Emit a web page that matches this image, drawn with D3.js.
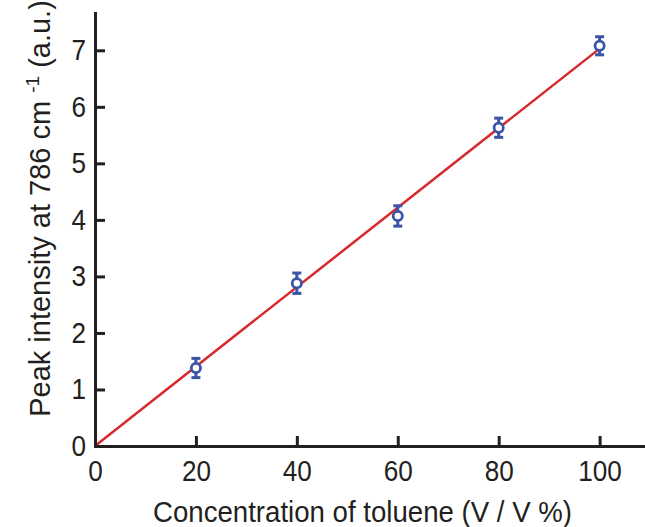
<!DOCTYPE html>
<html>
<head>
<meta charset="utf-8">
<script src="https://cdn.jsdelivr.net/npm/d3@7"></script>
<style>
  body { margin: 0; background: #fff; }
  svg { display: block; }
</style>
</head>
<body>
<svg id="canvas" width="645" height="527"></svg>
<script>
// concentration of toluene (V/V %)
const concentration = [20, 40, 60, 80, 100];
// peak intensity at 786 cm-1 (a.u.)
const intensity = [1.38, 2.88, 4.07, 5.63, 7.08];
const errors = [0.17, 0.18, 0.18, 0.17, 0.16];

// linear fit through origin
const fitX = [0, 100];
const fitY = [0, 7.03];

const xTicks = [0, 20, 40, 60, 80, 100];
const yTicks = [0, 1, 2, 3, 4, 5, 6, 7];

const width = 645;
const height = 527;
const margin = { left: 95, right: 2, top: 13, bottom: 81 };

const axisColor = '#231f20';
const markColor = '#3a55a6';
const lineColor = '#d7282b';
const font = '"Liberation Sans", Arial, Helvetica, sans-serif';

let canvas = d3.select('#canvas');

let xScale = d3.scaleLinear()
    .domain([0, 108.6])
    .range([margin.left, width - margin.right]);

let yScale = d3.scaleLinear()
    .domain([0, 7.66])
    .range([height - margin.bottom, margin.top]);

let drawFit = () => {
    let line = d3.line()
        .x(d => xScale(d[0]))
        .y(d => yScale(d[1]));
    canvas.append('path')
        .datum(d3.zip(fitX, fitY))
        .attr('d', line)
        .attr('fill', 'none')
        .attr('stroke', lineColor)
        .attr('stroke-width', 2.5);
}

let drawPoints = () => {
    let pts = d3.zip(concentration, intensity, errors);
    let g = canvas.append('g');

    g.selectAll('line.bar')
        .data(pts)
        .enter()
        .append('line')
        .attr('class', 'bar')
        .attr('x1', d => xScale(d[0]))
        .attr('x2', d => xScale(d[0]))
        .attr('y1', d => yScale(d[1] - d[2]))
        .attr('y2', d => yScale(d[1] + d[2]))
        .attr('stroke', markColor)
        .attr('stroke-width', 3);

    [-1, 1].forEach(s => {
        g.selectAll('line.cap' + (s + 1))
            .data(pts)
            .enter()
            .append('line')
            .attr('x1', d => xScale(d[0]) - 4.5)
            .attr('x2', d => xScale(d[0]) + 4.5)
            .attr('y1', d => yScale(d[1] + s * d[2]))
            .attr('y2', d => yScale(d[1] + s * d[2]))
            .attr('stroke', markColor)
            .attr('stroke-width', 3);
    });

    g.selectAll('circle')
        .data(pts)
        .enter()
        .append('circle')
        .attr('cx', d => xScale(d[0]))
        .attr('cy', d => yScale(d[1]))
        .attr('r', 4.6)
        .attr('fill', '#fff')
        .attr('stroke', markColor)
        .attr('stroke-width', 2.8);
}

let drawAxes = () => {
    let xAxis = d3.axisBottom(xScale)
        .tickValues(xTicks)
        .tickSizeInner(-10)
        .tickSizeOuter(0)
        .tickPadding(14);

    let yAxis = d3.axisLeft(yScale)
        .tickValues(yTicks)
        .tickSizeInner(-10)
        .tickSizeOuter(0)
        .tickPadding(9);

    let gx = canvas.append('g')
        .attr('transform', `translate(0, ${yScale(0)})`)
        .call(xAxis);

    let gy = canvas.append('g')
        .attr('transform', `translate(${xScale(0)}, 0)`)
        .call(yAxis);

    [gx, gy].forEach(g => {
        g.select('.domain')
            .attr('stroke', axisColor)
            .attr('stroke-width', 3)
            .attr('stroke-linecap', 'square');
        g.selectAll('.tick line')
            .attr('stroke', axisColor)
            .attr('stroke-width', 3);
        g.selectAll('.tick text')
            .attr('fill', axisColor)
            .style('font-family', font)
            .style('font-size', '29px')
            .each(function () {
                // labels in the figure are a little condensed
                let w = this.getComputedTextLength();
                d3.select(this)
                    .attr('textLength', w * 0.9)
                    .attr('lengthAdjust', 'spacingAndGlyphs');
            });
    });
    gx.selectAll('.tick')
        .filter(d => d === 0)
        .select('line')
        .remove();
    gy.selectAll('.tick')
        .filter(d => d === 0)
        .select('line')
        .remove();
}

let drawTitles = () => {
    canvas.append('text')
        .attr('x', 362.5)
        .attr('y', 522)
        .attr('text-anchor', 'middle')
        .attr('fill', axisColor)
        .attr('textLength', 419)
        .attr('lengthAdjust', 'spacingAndGlyphs')
        .style('font-family', font)
        .style('font-size', '29px')
        .text('Concentration of toluene (V / V %)');

    let yt = canvas.append('text')
        .attr('transform', 'translate(50, 208.5) rotate(-90)')
        .attr('text-anchor', 'middle')
        .attr('fill', axisColor)
        .style('font-family', font)
        .style('font-size', '29px');
    yt.append('tspan').text('Peak intensity at 786 cm ');
    yt.append('tspan')
        .attr('dy', -11)
        .style('font-size', '19px')
        .text('-1');
    yt.append('tspan')
        .attr('dy', 11)
        .text(' (a.u.)');
}

drawFit();
drawPoints();
drawAxes();
drawTitles();
</script>
</body>
</html>
